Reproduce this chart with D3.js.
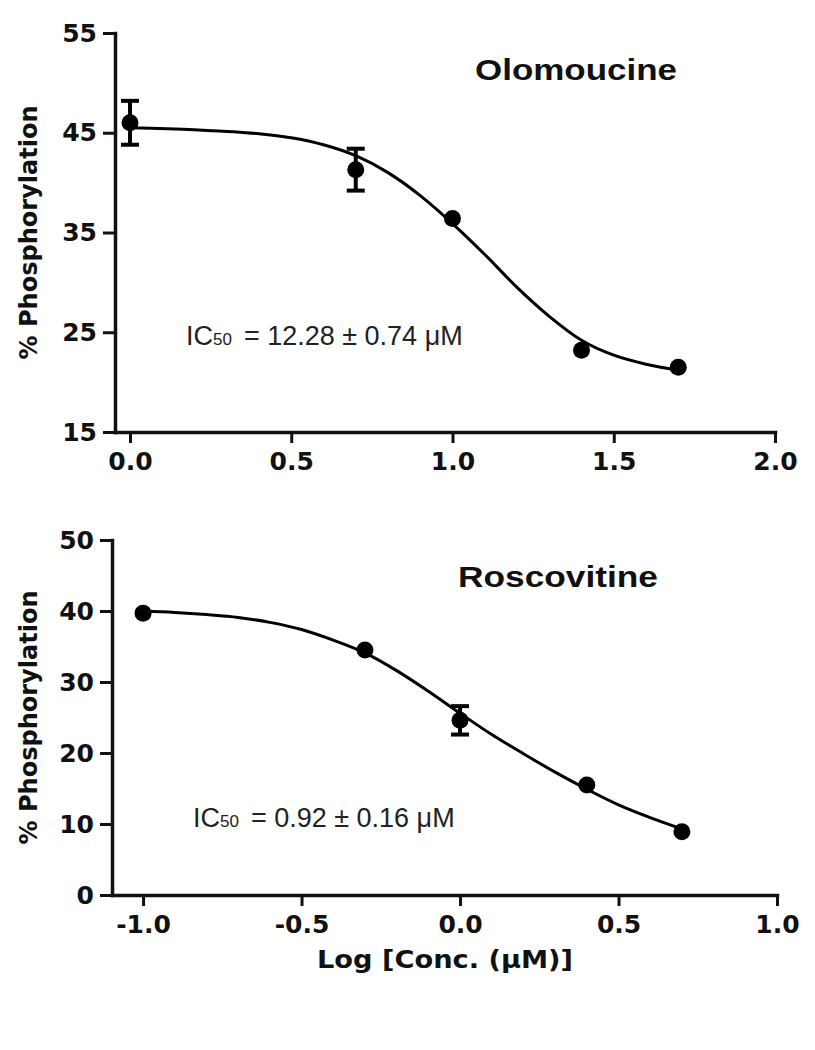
<!DOCTYPE html>
<html>
<head>
<meta charset="utf-8">
<script src="https://cdn.jsdelivr.net/npm/d3@7"></script>
<style>
    body { margin: 0; background: #fff; }
</style>
</head>
<body>
<div id="visualizer"></div>
<script>
// Olomoucine panel data
const oloX = [0.0, 0.7, 1.0, 1.4, 1.7];
const oloY = [46.0, 41.3, 36.4, 23.2, 21.5];
const oloErr = [2.2, 2.1, 0.4, 0.4, 0.3];
const oloFitX = [0.0, 0.2, 0.4, 0.5, 0.6, 0.7, 0.8, 0.9, 1.0, 1.1, 1.2, 1.3, 1.4, 1.5, 1.6, 1.7];
const oloFitY = [45.5, 45.3, 44.9, 44.5, 43.8, 42.7, 41.0, 38.7, 35.9, 32.8, 29.5, 26.6, 24.2, 22.7, 21.8, 21.2];
const oloXTicks = [0.0, 0.5, 1.0, 1.5, 2.0];
const oloYTicks = [15, 25, 35, 45, 55];

// Roscovitine panel data
const rosX = [-1.0, -0.3, 0.0, 0.4, 0.7];
const rosY = [39.7, 34.5, 24.6, 15.5, 8.9];
const rosErr = [0.4, 0.5, 2.0, 0.5, 0.4];
const rosFitX = [-1.0, -0.9, -0.8, -0.7, -0.6, -0.5, -0.4, -0.3, -0.2, -0.1, 0.0, 0.1, 0.2, 0.3, 0.4, 0.5, 0.6, 0.7];
const rosFitY = [40.0, 39.8, 39.5, 39.1, 38.4, 37.4, 35.9, 34.1, 31.6, 28.7, 25.6, 22.6, 19.9, 17.3, 14.9, 12.7, 10.9, 9.3];
const rosXTicks = [-1.0, -0.5, 0.0, 0.5, 1.0];
const rosYTicks = [0, 10, 20, 30, 40, 50];

const width = 815, height = 1050;
const dotRadius = 8.5;

const svg = d3.select("#visualizer")
    .append("svg")
    .attr("width", width)
    .attr("height", height)
    .style("background", "#fff");

function drawPanel(p) {
    const x = d3.scaleLinear().domain(p.xDomain).range(p.xRange);
    const y = d3.scaleLinear().domain(p.yDomain).range(p.yRange);

    // y axis
    const yAxis = svg.append("g")
        .attr("transform", `translate(${p.xRange[0]}, 0)`)
        .call(d3.axisLeft(y).tickValues(p.yTicks).tickSize(12).tickSizeOuter(0).tickPadding(6));

    // x axis
    const xAxis = svg.append("g")
        .attr("transform", `translate(0, ${p.yRange[0]})`)
        .call(d3.axisBottom(x).tickValues(p.xTicks).tickSize(11).tickSizeOuter(0).tickPadding(9)
            .tickFormat(d => d.toFixed(1)));

    [yAxis, xAxis].forEach(ax => {
        ax.select(".domain").attr("stroke", "#111").attr("stroke-width", 3.5).attr("stroke-linecap", "square");
        ax.selectAll(".tick line").attr("stroke", "#111").attr("stroke-width", 3);
        ax.selectAll(".tick text")
            .attr("fill", "#111")
            .style("font-family", "'DejaVu Sans', sans-serif")
            .style("font-weight", "bold")
            .style("font-size", "25px");
    });

    // fitted curve
    const fit = p.fitX.map((d, i) => [d, p.fitY[i]]);
    svg.append("path")
        .datum(fit)
        .attr("fill", "none")
        .attr("stroke", "#000")
        .attr("stroke-width", 3)
        .attr("d", d3.line().x(d => x(d[0])).y(d => y(d[1])).curve(d3.curveMonotoneX));

    // error bars (hidden when shorter than the symbol, as in Prism)
    const pts = p.xs.map((d, i) => ({ x: d, y: p.ys[i], e: p.errs[i] }));
    const eb = svg.append("g").attr("stroke", "#000").attr("stroke-width", 4);
    pts.filter(d => y(d.y) - y(d.y + d.e) > dotRadius).forEach(d => {
        const cx = x(d.x);
        eb.append("line").attr("x1", cx).attr("x2", cx).attr("y1", y(d.y - d.e)).attr("y2", y(d.y + d.e));
        eb.append("line").attr("x1", cx - 9).attr("x2", cx + 9).attr("y1", y(d.y + d.e)).attr("y2", y(d.y + d.e));
        eb.append("line").attr("x1", cx - 9).attr("x2", cx + 9).attr("y1", y(d.y - d.e)).attr("y2", y(d.y - d.e));
    });

    // points
    svg.append("g").selectAll("circle")
        .data(pts)
        .join("circle")
        .attr("cx", d => x(d.x))
        .attr("cy", d => y(d.y))
        .attr("r", dotRadius)
        .attr("fill", "#000");

    // panel title
    svg.append("text")
        .attr("x", p.title.x)
        .attr("y", p.title.y)
        .attr("text-anchor", "middle")
        .attr("textLength", p.title.w)
        .attr("lengthAdjust", "spacingAndGlyphs")
        .style("font-family", "'Liberation Sans', Arial, sans-serif")
        .style("font-weight", "bold")
        .style("font-size", "30px")
        .attr("fill", "#111")
        .text(p.title.text);

    // IC50 annotation
    const ic = svg.append("text")
        .attr("x", p.ic.x)
        .attr("y", p.ic.y)
        .style("font-family", "'Liberation Sans', Arial, sans-serif")
        .style("font-size", "27px")
        .attr("fill", "#222");
    ic.append("tspan").text("IC");
    ic.append("tspan").style("font-size", "17px").text("50");
    ic.append("tspan").attr("dx", 12).text(p.ic.text);

    // y axis title
    const yMid = (p.yRange[0] + p.yRange[1]) / 2;
    svg.append("text")
        .attr("transform", `translate(37, ${yMid}) rotate(-90)`)
        .attr("text-anchor", "middle")
        .attr("textLength", 254)
        .attr("lengthAdjust", "spacingAndGlyphs")
        .style("font-family", "'DejaVu Sans', sans-serif")
        .style("font-weight", "bold")
        .style("font-size", "24px")
        .attr("fill", "#111")
        .text("% Phosphorylation");

    return x;
}

drawPanel({
    xDomain: [-0.0465, 2.0], xRange: [115, 775],
    yDomain: [15, 55], yRange: [432, 33],
    xTicks: oloXTicks, yTicks: oloYTicks,
    xs: oloX, ys: oloY, errs: oloErr,
    fitX: oloFitX, fitY: oloFitY,
    title: { text: "Olomoucine", x: 576, y: 80, w: 202 },
    ic: { x: 186, y: 345, text: "= 12.28 ± 0.74 μM" }
});

drawPanel({
    xDomain: [-1.098, 1.0], xRange: [112, 777],
    yDomain: [0, 50], yRange: [895, 540],
    xTicks: rosXTicks, yTicks: rosYTicks,
    xs: rosX, ys: rosY, errs: rosErr,
    fitX: rosFitX, fitY: rosFitY,
    title: { text: "Roscovitine", x: 558, y: 587, w: 200 },
    ic: { x: 193, y: 827, text: "= 0.92 ± 0.16 μM" }
});

// x axis title
svg.append("text")
    .attr("x", 445)
    .attr("y", 968)
    .attr("text-anchor", "middle")
    .attr("textLength", 256)
    .attr("lengthAdjust", "spacingAndGlyphs")
    .style("font-family", "'DejaVu Sans', sans-serif")
    .style("font-weight", "bold")
    .style("font-size", "24px")
    .attr("fill", "#111")
    .text("Log [Conc. (μM)]");
</script>
</body>
</html>
